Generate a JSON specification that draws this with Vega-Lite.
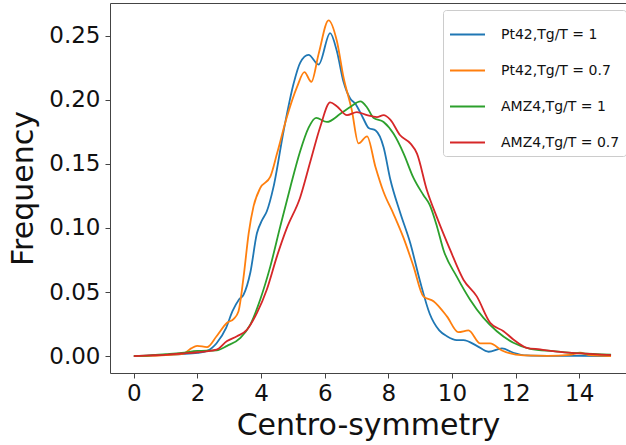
{
  "$schema": "https://vega.github.io/schema/vega-lite/v6.json",
  "autosize": "none",
  "width": 516,
  "height": 370,
  "padding": {"left": 110, "top": 3, "right": 0, "bottom": 72},
  "background": "white",
  "config": {
    "font": "DejaVu Sans",
    "view": {"stroke": "#444", "strokeWidth": 1}
  },
  "data": {
    "values": [
      {"s":"Pt42,Tg/T = 1","x":0,"y":0},{"s":"Pt42,Tg/T = 1","x":0.5,"y":0.0003},{"s":"Pt42,Tg/T = 1","x":1,"y":0.001},{"s":"Pt42,Tg/T = 1","x":1.5,"y":0.0015},{"s":"Pt42,Tg/T = 1","x":2,"y":0.0025},{"s":"Pt42,Tg/T = 1","x":2.3,"y":0.004},{"s":"Pt42,Tg/T = 1","x":2.6,"y":0.01},{"s":"Pt42,Tg/T = 1","x":2.9,"y":0.022},{"s":"Pt42,Tg/T = 1","x":3.1,"y":0.035},{"s":"Pt42,Tg/T = 1","x":3.3,"y":0.044},{"s":"Pt42,Tg/T = 1","x":3.45,"y":0.048},{"s":"Pt42,Tg/T = 1","x":3.66,"y":0.065},{"s":"Pt42,Tg/T = 1","x":3.87,"y":0.096},{"s":"Pt42,Tg/T = 1","x":4.03,"y":0.106},{"s":"Pt42,Tg/T = 1","x":4.18,"y":0.113},{"s":"Pt42,Tg/T = 1","x":4.39,"y":0.132},{"s":"Pt42,Tg/T = 1","x":4.71,"y":0.176},{"s":"Pt42,Tg/T = 1","x":5.02,"y":0.2125},{"s":"Pt42,Tg/T = 1","x":5.23,"y":0.229},{"s":"Pt42,Tg/T = 1","x":5.49,"y":0.235},{"s":"Pt42,Tg/T = 1","x":5.81,"y":0.2275},{"s":"Pt42,Tg/T = 1","x":6.17,"y":0.252},{"s":"Pt42,Tg/T = 1","x":6.38,"y":0.238},{"s":"Pt42,Tg/T = 1","x":6.59,"y":0.214},{"s":"Pt42,Tg/T = 1","x":6.8,"y":0.201},{"s":"Pt42,Tg/T = 1","x":6.96,"y":0.197},{"s":"Pt42,Tg/T = 1","x":7.2,"y":0.186},{"s":"Pt42,Tg/T = 1","x":7.38,"y":0.178},{"s":"Pt42,Tg/T = 1","x":7.6,"y":0.176},{"s":"Pt42,Tg/T = 1","x":7.85,"y":0.163},{"s":"Pt42,Tg/T = 1","x":8.06,"y":0.138},{"s":"Pt42,Tg/T = 1","x":8.37,"y":0.112},{"s":"Pt42,Tg/T = 1","x":8.69,"y":0.088},{"s":"Pt42,Tg/T = 1","x":9.0,"y":0.058},{"s":"Pt42,Tg/T = 1","x":9.3,"y":0.033},{"s":"Pt42,Tg/T = 1","x":9.6,"y":0.02},{"s":"Pt42,Tg/T = 1","x":9.84,"y":0.0155},{"s":"Pt42,Tg/T = 1","x":10.15,"y":0.0125},{"s":"Pt42,Tg/T = 1","x":10.36,"y":0.0125},{"s":"Pt42,Tg/T = 1","x":10.78,"y":0.008},{"s":"Pt42,Tg/T = 1","x":11.15,"y":0.0034},{"s":"Pt42,Tg/T = 1","x":11.57,"y":0.006},{"s":"Pt42,Tg/T = 1","x":11.93,"y":0.0026},{"s":"Pt42,Tg/T = 1","x":12.35,"y":0.0005},{"s":"Pt42,Tg/T = 1","x":13,"y":0.0002},{"s":"Pt42,Tg/T = 1","x":14,"y":0.0001},{"s":"Pt42,Tg/T = 1","x":15,"y":0},

      {"s":"Pt42,Tg/T = 0.7","x":0,"y":0},{"s":"Pt42,Tg/T = 0.7","x":0.5,"y":0.0002},{"s":"Pt42,Tg/T = 0.7","x":1,"y":0.0008},{"s":"Pt42,Tg/T = 0.7","x":1.57,"y":0.002},{"s":"Pt42,Tg/T = 0.7","x":1.8,"y":0.006},{"s":"Pt42,Tg/T = 0.7","x":1.99,"y":0.008},{"s":"Pt42,Tg/T = 0.7","x":2.3,"y":0.007},{"s":"Pt42,Tg/T = 0.7","x":2.6,"y":0.0155},{"s":"Pt42,Tg/T = 0.7","x":2.93,"y":0.026},{"s":"Pt42,Tg/T = 0.7","x":3.14,"y":0.029},{"s":"Pt42,Tg/T = 0.7","x":3.29,"y":0.035},{"s":"Pt42,Tg/T = 0.7","x":3.45,"y":0.062},{"s":"Pt42,Tg/T = 0.7","x":3.61,"y":0.096},{"s":"Pt42,Tg/T = 0.7","x":3.76,"y":0.1166},{"s":"Pt42,Tg/T = 0.7","x":3.97,"y":0.131},{"s":"Pt42,Tg/T = 0.7","x":4.29,"y":0.14},{"s":"Pt42,Tg/T = 0.7","x":4.5,"y":0.158},{"s":"Pt42,Tg/T = 0.7","x":4.81,"y":0.1865},{"s":"Pt42,Tg/T = 0.7","x":5.13,"y":0.21},{"s":"Pt42,Tg/T = 0.7","x":5.36,"y":0.2215},{"s":"Pt42,Tg/T = 0.7","x":5.58,"y":0.214},{"s":"Pt42,Tg/T = 0.7","x":5.81,"y":0.236},{"s":"Pt42,Tg/T = 0.7","x":6.12,"y":0.262},{"s":"Pt42,Tg/T = 0.7","x":6.38,"y":0.246},{"s":"Pt42,Tg/T = 0.7","x":6.59,"y":0.2176},{"s":"Pt42,Tg/T = 0.7","x":6.85,"y":0.192},{"s":"Pt42,Tg/T = 0.7","x":7.06,"y":0.166},{"s":"Pt42,Tg/T = 0.7","x":7.33,"y":0.1715},{"s":"Pt42,Tg/T = 0.7","x":7.59,"y":0.148},{"s":"Pt42,Tg/T = 0.7","x":7.85,"y":0.128},{"s":"Pt42,Tg/T = 0.7","x":8.16,"y":0.111},{"s":"Pt42,Tg/T = 0.7","x":8.48,"y":0.092},{"s":"Pt42,Tg/T = 0.7","x":8.79,"y":0.07},{"s":"Pt42,Tg/T = 0.7","x":9.1,"y":0.0466},{"s":"Pt42,Tg/T = 0.7","x":9.42,"y":0.0428},{"s":"Pt42,Tg/T = 0.7","x":9.84,"y":0.031},{"s":"Pt42,Tg/T = 0.7","x":10.2,"y":0.0187},{"s":"Pt42,Tg/T = 0.7","x":10.52,"y":0.02},{"s":"Pt42,Tg/T = 0.7","x":10.89,"y":0.0099},{"s":"Pt42,Tg/T = 0.7","x":11.2,"y":0.0099},{"s":"Pt42,Tg/T = 0.7","x":11.57,"y":0.0044},{"s":"Pt42,Tg/T = 0.7","x":12.25,"y":0.0005},{"s":"Pt42,Tg/T = 0.7","x":13,"y":0.0002},{"s":"Pt42,Tg/T = 0.7","x":13.7,"y":0.001},{"s":"Pt42,Tg/T = 0.7","x":14.03,"y":0.0026},{"s":"Pt42,Tg/T = 0.7","x":14.3,"y":0.0008},{"s":"Pt42,Tg/T = 0.7","x":15,"y":0},

      {"s":"AMZ4,Tg/T = 1","x":0,"y":0},{"s":"AMZ4,Tg/T = 1","x":0.5,"y":0.0006},{"s":"AMZ4,Tg/T = 1","x":1,"y":0.0015},{"s":"AMZ4,Tg/T = 1","x":1.5,"y":0.0025},{"s":"AMZ4,Tg/T = 1","x":2,"y":0.004},{"s":"AMZ4,Tg/T = 1","x":2.6,"y":0.0045},{"s":"AMZ4,Tg/T = 1","x":2.93,"y":0.008},{"s":"AMZ4,Tg/T = 1","x":3.35,"y":0.0143},{"s":"AMZ4,Tg/T = 1","x":3.66,"y":0.0246},{"s":"AMZ4,Tg/T = 1","x":3.97,"y":0.044},{"s":"AMZ4,Tg/T = 1","x":4.29,"y":0.07},{"s":"AMZ4,Tg/T = 1","x":4.6,"y":0.101},{"s":"AMZ4,Tg/T = 1","x":4.92,"y":0.132},{"s":"AMZ4,Tg/T = 1","x":5.23,"y":0.16},{"s":"AMZ4,Tg/T = 1","x":5.49,"y":0.178},{"s":"AMZ4,Tg/T = 1","x":5.73,"y":0.1858},{"s":"AMZ4,Tg/T = 1","x":6.07,"y":0.1827},{"s":"AMZ4,Tg/T = 1","x":6.49,"y":0.189},{"s":"AMZ4,Tg/T = 1","x":6.8,"y":0.1943},{"s":"AMZ4,Tg/T = 1","x":7.12,"y":0.1987},{"s":"AMZ4,Tg/T = 1","x":7.33,"y":0.194},{"s":"AMZ4,Tg/T = 1","x":7.53,"y":0.186},{"s":"AMZ4,Tg/T = 1","x":7.85,"y":0.1827},{"s":"AMZ4,Tg/T = 1","x":8.16,"y":0.1736},{"s":"AMZ4,Tg/T = 1","x":8.48,"y":0.158},{"s":"AMZ4,Tg/T = 1","x":8.79,"y":0.139},{"s":"AMZ4,Tg/T = 1","x":9.1,"y":0.1257},{"s":"AMZ4,Tg/T = 1","x":9.3,"y":0.118},{"s":"AMZ4,Tg/T = 1","x":9.53,"y":0.101},{"s":"AMZ4,Tg/T = 1","x":9.73,"y":0.083},{"s":"AMZ4,Tg/T = 1","x":10.15,"y":0.062},{"s":"AMZ4,Tg/T = 1","x":10.57,"y":0.044},{"s":"AMZ4,Tg/T = 1","x":10.99,"y":0.0298},{"s":"AMZ4,Tg/T = 1","x":11.41,"y":0.0194},{"s":"AMZ4,Tg/T = 1","x":11.93,"y":0.0104},{"s":"AMZ4,Tg/T = 1","x":12.46,"y":0.0057},{"s":"AMZ4,Tg/T = 1","x":13.19,"y":0.0039},{"s":"AMZ4,Tg/T = 1","x":14.03,"y":0.0021},{"s":"AMZ4,Tg/T = 1","x":15,"y":0.0012},

      {"s":"AMZ4,Tg/T = 0.7","x":0,"y":0},{"s":"AMZ4,Tg/T = 0.7","x":0.5,"y":0.0005},{"s":"AMZ4,Tg/T = 0.7","x":1,"y":0.001},{"s":"AMZ4,Tg/T = 0.7","x":1.5,"y":0.002},{"s":"AMZ4,Tg/T = 0.7","x":2,"y":0.003},{"s":"AMZ4,Tg/T = 0.7","x":2.6,"y":0.005},{"s":"AMZ4,Tg/T = 0.7","x":2.93,"y":0.0117},{"s":"AMZ4,Tg/T = 0.7","x":3.24,"y":0.0155},{"s":"AMZ4,Tg/T = 0.7","x":3.56,"y":0.0207},{"s":"AMZ4,Tg/T = 0.7","x":3.87,"y":0.0337},{"s":"AMZ4,Tg/T = 0.7","x":4.18,"y":0.052},{"s":"AMZ4,Tg/T = 0.7","x":4.5,"y":0.078},{"s":"AMZ4,Tg/T = 0.7","x":4.81,"y":0.1},{"s":"AMZ4,Tg/T = 0.7","x":5.23,"y":0.124},{"s":"AMZ4,Tg/T = 0.7","x":5.55,"y":0.152},{"s":"AMZ4,Tg/T = 0.7","x":5.86,"y":0.179},{"s":"AMZ4,Tg/T = 0.7","x":6.17,"y":0.198},{"s":"AMZ4,Tg/T = 0.7","x":6.38,"y":0.195},{"s":"AMZ4,Tg/T = 0.7","x":6.7,"y":0.188},{"s":"AMZ4,Tg/T = 0.7","x":7.01,"y":0.1904},{"s":"AMZ4,Tg/T = 0.7","x":7.33,"y":0.188},{"s":"AMZ4,Tg/T = 0.7","x":7.64,"y":0.1865},{"s":"AMZ4,Tg/T = 0.7","x":7.85,"y":0.188},{"s":"AMZ4,Tg/T = 0.7","x":8.06,"y":0.1845},{"s":"AMZ4,Tg/T = 0.7","x":8.37,"y":0.1723},{"s":"AMZ4,Tg/T = 0.7","x":8.69,"y":0.166},{"s":"AMZ4,Tg/T = 0.7","x":8.9,"y":0.158},{"s":"AMZ4,Tg/T = 0.7","x":9.21,"y":0.1296},{"s":"AMZ4,Tg/T = 0.7","x":9.53,"y":0.108},{"s":"AMZ4,Tg/T = 0.7","x":9.94,"y":0.083},{"s":"AMZ4,Tg/T = 0.7","x":10.36,"y":0.0596},{"s":"AMZ4,Tg/T = 0.7","x":10.78,"y":0.0466},{"s":"AMZ4,Tg/T = 0.7","x":11.2,"y":0.026},{"s":"AMZ4,Tg/T = 0.7","x":11.62,"y":0.0194},{"s":"AMZ4,Tg/T = 0.7","x":11.93,"y":0.013},{"s":"AMZ4,Tg/T = 0.7","x":12.35,"y":0.0065},{"s":"AMZ4,Tg/T = 0.7","x":12.77,"y":0.0052},{"s":"AMZ4,Tg/T = 0.7","x":13.3,"y":0.0034},{"s":"AMZ4,Tg/T = 0.7","x":14.03,"y":0.0021},{"s":"AMZ4,Tg/T = 0.7","x":15,"y":0.0008}
    ]
  },
  "mark": {"type": "line", "interpolate": "monotone", "strokeWidth": 1.8, "clip": true},
  "encoding": {
    "x": {
      "field": "x", "type": "quantitative",
      "scale": {"domain": [-0.75, 15.47], "nice": false, "zero": false},
      "axis": {
        "title": "Centro-symmetry", "values": [0, 2, 4, 6, 8, 10, 12, 14],
        "grid": false, "domain": false, "tickColor": "#444", "tickSize": 5,
        "labelFontSize": 23, "labelColor": "#111", "labelPadding": 4,
        "titleFontSize": 30, "titleFontWeight": "normal", "titleColor": "#111", "titlePadding": 5
      }
    },
    "y": {
      "field": "y", "type": "quantitative",
      "scale": {"domain": [-0.0132, 0.2755], "nice": false, "zero": false},
      "axis": {
        "title": "Frequency", "values": [0, 0.05, 0.1, 0.15, 0.2, 0.25], "format": ".2f",
        "grid": false, "domain": false, "tickColor": "#444", "tickSize": 5,
        "labelFontSize": 23, "labelColor": "#111", "labelPadding": 5,
        "titleFontSize": 30, "titleFontWeight": "normal", "titleColor": "#111", "titlePadding": 10
      }
    },
    "color": {
      "field": "s", "type": "nominal",
      "scale": {
        "domain": ["Pt42,Tg/T = 1", "Pt42,Tg/T = 0.7", "AMZ4,Tg/T = 1", "AMZ4,Tg/T = 0.7"],
        "range": ["#1f77b4", "#ff7f0e", "#2ca02c", "#d62728"]
      },
      "legend": {
        "title": null, "orient": "none", "legendX": 333, "legendY": 7,
        "symbolType": "stroke", "symbolSize": 1225, "symbolStrokeWidth": 2,
        "labelFontSize": 14, "labelColor": "#111", "labelOffset": 15,
        "rowPadding": 10, "padding": 6,
        "strokeColor": "#ccc", "fillColor": "white", "cornerRadius": 3
      }
    }
  }
}
